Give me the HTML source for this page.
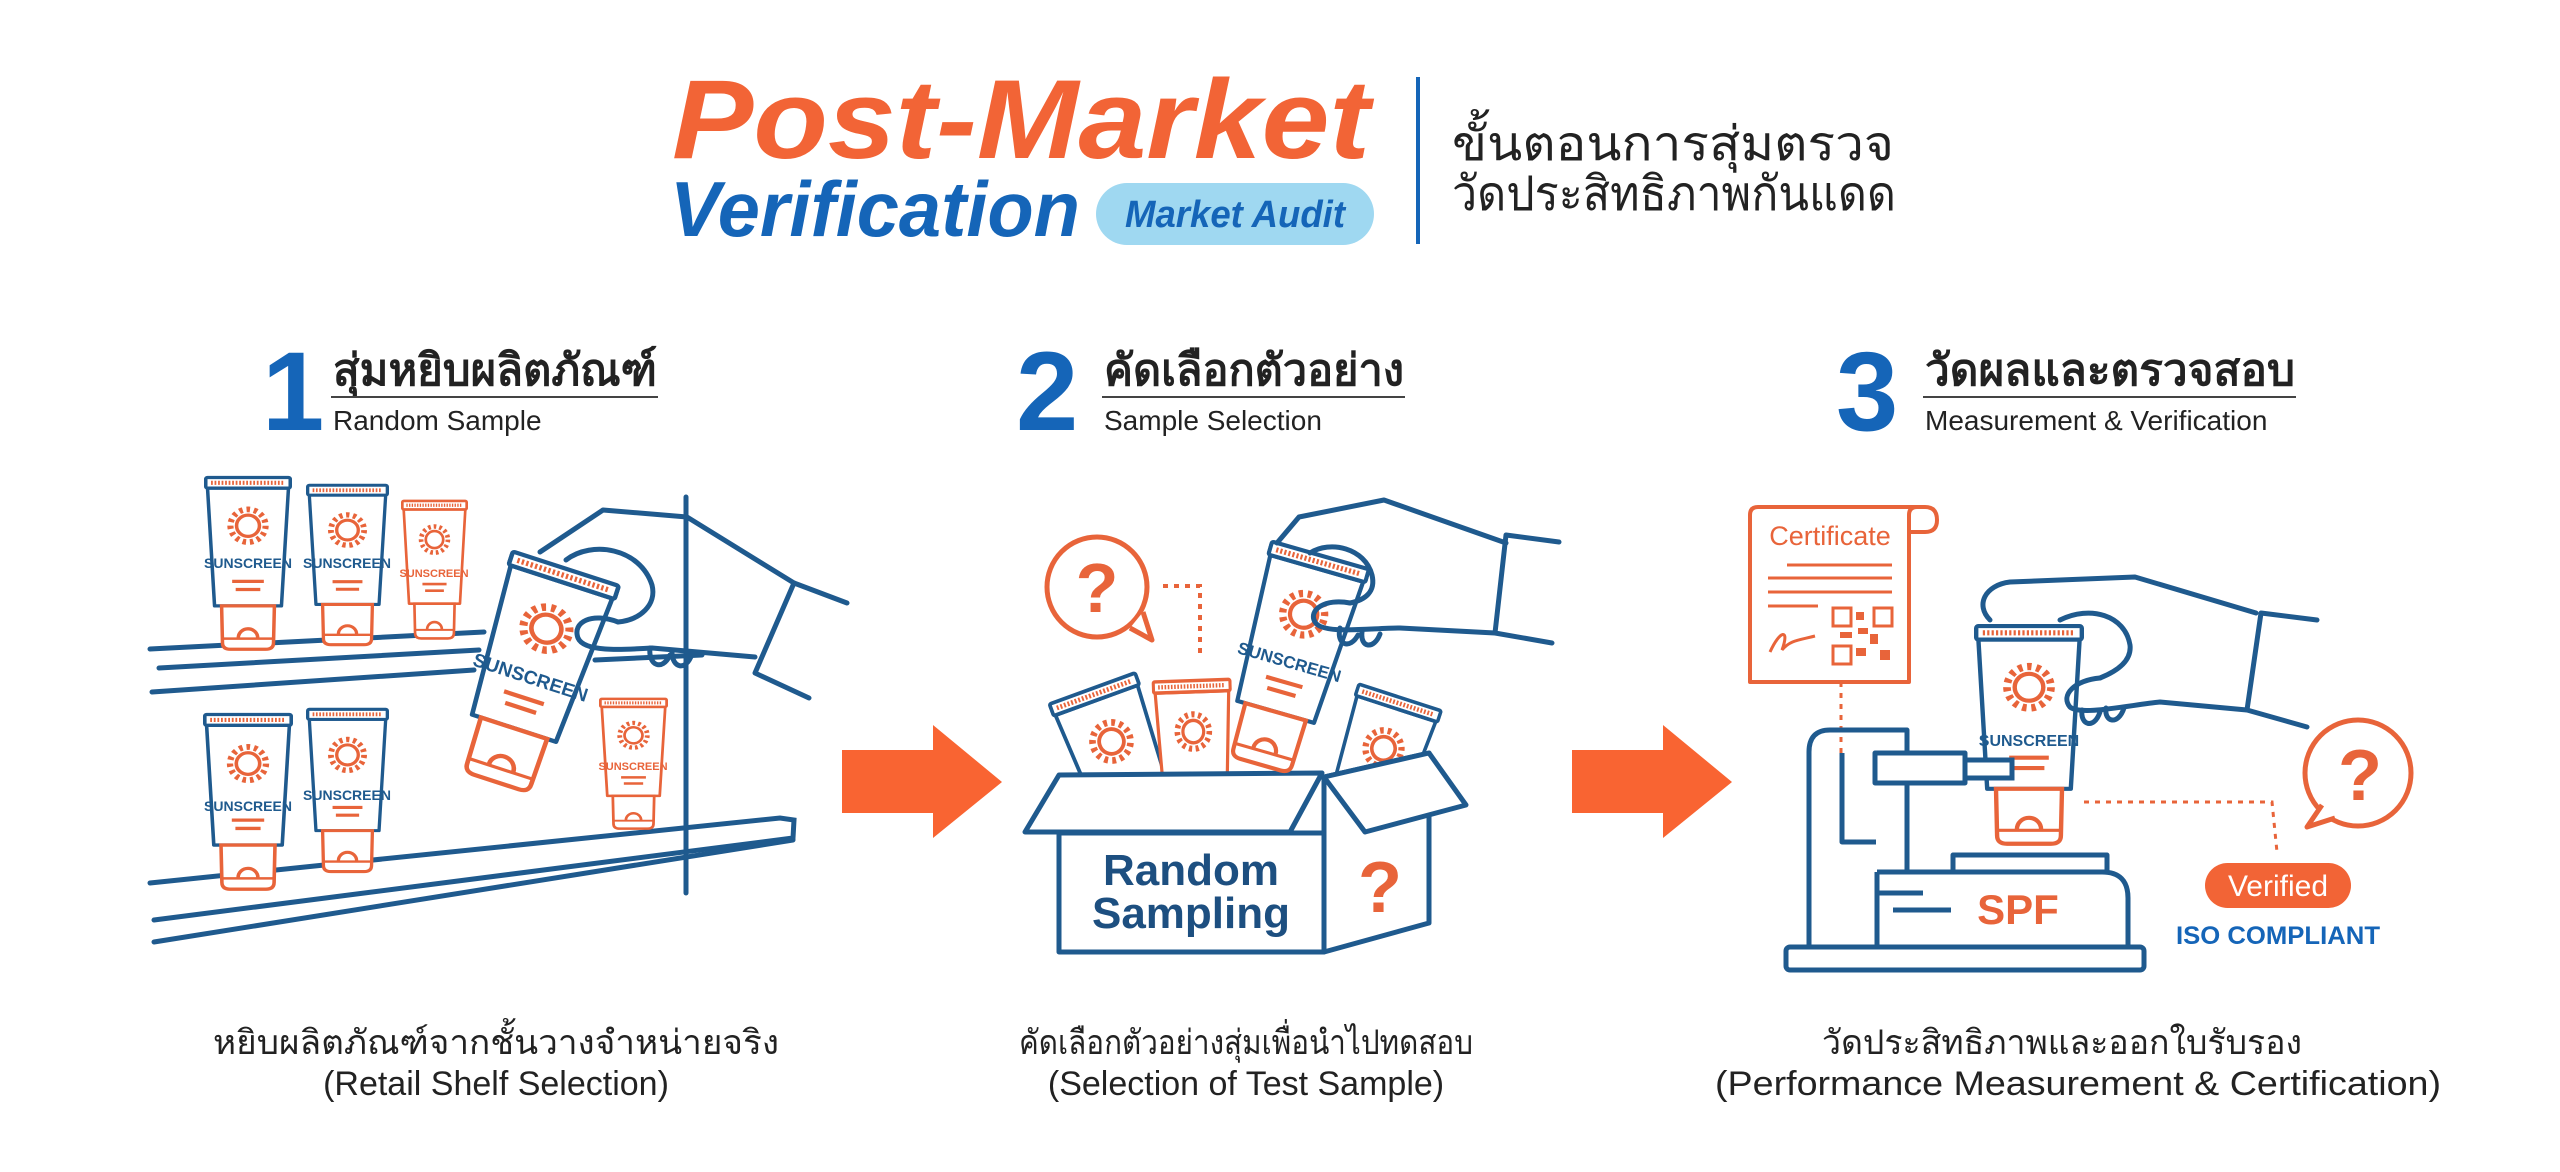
<!DOCTYPE html>
<html><head><meta charset="utf-8">
<style>
html,body{margin:0;padding:0;background:#fff;}
svg{display:block;}
text{font-family:"Liberation Sans","DejaVu Sans","Noto Sans CJK SC",sans-serif;}
</style></head>
<body>
<svg width="2560" height="1172" viewBox="0 0 2560 1172" xmlns="http://www.w3.org/2000/svg">
<defs>
<symbol id="tube" viewBox="0 0 100 220" preserveAspectRatio="none">
  <path d="M4,16 L96,16 L88,160 L12,160 Z" fill="#fff" stroke="currentColor" stroke-width="4" stroke-linejoin="round"/>
  <rect x="2" y="3" width="96" height="13" rx="2" fill="#fff" stroke="currentColor" stroke-width="4"/>
  <line x1="8" y1="9.5" x2="92" y2="9.5" stroke="#e8643a" stroke-width="5" stroke-dasharray="2 2"/>
  <circle cx="50" cy="62" r="13" fill="none" stroke="#e8643a" stroke-width="4"/>
  <circle cx="50" cy="62" r="20" fill="none" stroke="#e8643a" stroke-width="7" stroke-dasharray="4 4.4"/>
  <line x1="32" y1="130" x2="68" y2="130" stroke="#e8643a" stroke-width="4"/>
  <line x1="36" y1="140" x2="64" y2="140" stroke="#e8643a" stroke-width="4"/>
  <path d="M20,160 L80,160 L79,205 Q79,213 70,213 L30,213 Q21,213 21,205 Z" fill="#fff" stroke="#e8643a" stroke-width="4"/>
  <line x1="22" y1="200" x2="78" y2="200" stroke="#e8643a" stroke-width="3"/>
  <path d="M39,199 A11,11 0 0 1 61,199" fill="none" stroke="#e8643a" stroke-width="4"/>
</symbol>
</defs>

<!-- HEADER -->
<text x="672" y="158" font-size="112" font-weight="bold" font-style="italic" fill="#f26436" textLength="698" lengthAdjust="spacingAndGlyphs">Post-Market</text>
<text x="670" y="236" font-size="78" font-weight="bold" font-style="italic" fill="#1565b8" textLength="410" lengthAdjust="spacingAndGlyphs">Verification</text>
<rect x="1096" y="183" width="278" height="62" rx="31" fill="#9fd8f1"/>
<text x="1235" y="227" font-size="38" font-weight="bold" font-style="italic" fill="#1565b8" text-anchor="middle" textLength="220" lengthAdjust="spacingAndGlyphs">Market Audit</text>
<line x1="1418" y1="77" x2="1418" y2="244" stroke="#1565b8" stroke-width="4"/>
<text x="1452" y="160" font-size="48" fill="#222" textLength="442" lengthAdjust="spacingAndGlyphs">ขั้นตอนการสุ่มตรวจ</text>
<text x="1452" y="210" font-size="48" fill="#222" textLength="444" lengthAdjust="spacingAndGlyphs">วัดประสิทธิภาพกันแดด</text>

<!-- STEP HEADERS -->
<g fill="#1565b8" font-weight="bold">
<text x="262" y="430" font-size="112">1</text>
<text x="1016" y="430" font-size="112">2</text>
<text x="1836" y="430" font-size="112">3</text>
</g>
<g fill="#222" font-weight="bold" font-size="44">
<text x="333" y="385" textLength="324" lengthAdjust="spacingAndGlyphs">สุ่มหยิบผลิตภัณฑ์</text>
<text x="1104" y="385" textLength="300" lengthAdjust="spacingAndGlyphs">คัดเลือกตัวอย่าง</text>
<text x="1925" y="385" textLength="370" lengthAdjust="spacingAndGlyphs">วัดผลและตรวจสอบ</text>
</g>
<g stroke="#444" stroke-width="2">
<line x1="331" y1="397" x2="658" y2="397"/>
<line x1="1102" y1="397" x2="1405" y2="397"/>
<line x1="1923" y1="397" x2="2296" y2="397"/>
</g>
<g fill="#222" font-size="28">
<text x="333" y="430">Random Sample</text>
<text x="1104" y="430">Sample Selection</text>
<text x="1925" y="430">Measurement &amp; Verification</text>
</g>

<!-- ARROWS -->
<path d="M842,750 L933,750 L933,725 L1002,782 L933,838 L933,813 L842,813 Z" fill="#f96432"/>
<path d="M1572,750 L1663,750 L1663,725 L1732,782 L1663,838 L1663,813 L1572,813 Z" fill="#f96432"/>

<!-- STEP 1 ILLUSTRATION -->
<g fill="none" stroke="#1f5a8e" stroke-width="5" stroke-linecap="round">
  <line x1="150" y1="649" x2="484" y2="632"/>
  <line x1="159" y1="668" x2="479" y2="650"/>
  <line x1="595" y1="660" x2="702" y2="655"/>
  <line x1="152" y1="692" x2="474" y2="670"/>
  <line x1="686" y1="497" x2="686" y2="893"/>
  <path d="M150,883 L780,818 L794,820 L793,838 L154,920"/>
  <line x1="154" y1="942" x2="793" y2="840"/>
</g>
<g color="#1f5a8e">
<use href="#tube" x="204" y="475" width="88" height="180"/>
<use href="#tube" x="306" y="483" width="83" height="167"/>
<use href="#tube" x="203" y="712" width="90" height="183"/>
<use href="#tube" x="306" y="707" width="83" height="170"/>
</g>
<g color="#e8643a">
<use href="#tube" x="401" y="499" width="67" height="144"/>
<use href="#tube" x="599" y="697" width="69" height="136"/>
</g>
<g font-size="14" fill="#1f5a8e" text-anchor="middle" font-weight="bold">
<text x="248" y="568">SUNSCREEN</text>
<text x="347" y="568">SUNSCREEN</text>
<text x="434" y="577" font-size="11" fill="#e8643a">SUNSCREEN</text>
<text x="248" y="811">SUNSCREEN</text>
<text x="347" y="800">SUNSCREEN</text>
<text x="633" y="770" font-size="11" fill="#e8643a">SUNSCREEN</text>
</g>
<g transform="rotate(18 531 676)" color="#1f5a8e">
<use href="#tube" x="473" y="560" width="116" height="235"/>
<text x="531" y="684" font-size="19" fill="#1f5a8e" text-anchor="middle" font-weight="bold">SUNSCREEN</text>
</g>
<g fill="none" stroke="#1f5a8e" stroke-width="5" stroke-linejoin="round" stroke-linecap="round">
  <path d="M794,583 L687,517 L603,510 L540,552"/>
  <path d="M566,560 C592,540 640,548 652,585 C657,605 640,620 618,622"/>
  <path d="M618,622 C592,612 572,622 578,638 C584,652 620,650 652,648 L755,657"/>
  <path d="M794,583 L755,673 M794,583 L847,603 M755,673 L809,698"/>
  <path d="M650,648 C648,665 662,672 670,655 M672,652 C672,668 686,672 692,654"/>
</g>

<!-- STEP 2 ILLUSTRATION -->
<circle cx="1097" cy="587" r="50" fill="none" stroke="#e8643a" stroke-width="5"/>
<path d="M1130,628 L1152,640 L1143,612" fill="#fff" stroke="#e8643a" stroke-width="5" stroke-linejoin="round"/>
<text x="1097" y="612" font-size="70" font-weight="bold" fill="#e8643a" text-anchor="middle">?</text>
<path d="M1163,586 L1200,586 L1200,657" fill="none" stroke="#e8643a" stroke-width="4" stroke-dasharray="5 6"/>
<g color="#1f5a8e">
<g transform="rotate(-20 1125 780)"><use href="#tube" x="1078" y="680" width="95" height="210"/></g>
<g transform="rotate(-2 1195 780)" color="#e8643a"><use href="#tube" x="1155" y="678" width="80" height="190"/></g>
<g transform="rotate(18 1370 790)"><use href="#tube" x="1325" y="690" width="90" height="200"/></g>
</g>
<g fill="#fff" stroke="#1f5a8e" stroke-width="5" stroke-linejoin="round">
  <polygon points="1324,777 1429,753 1429,923 1324,952"/>
  <rect x="1059" y="833" width="265" height="119"/>
  <polygon points="1059,775 1322,773 1290,832 1025,832"/>
  <polygon points="1324,777 1429,753 1466,805 1365,832"/>
</g>
<g fill="#1d4f80" font-weight="bold" font-size="44" text-anchor="middle">
<text x="1191" y="885">Random</text>
<text x="1191" y="928">Sampling</text>
</g>
<text x="1380" y="912" font-size="72" font-weight="bold" fill="#e8643a" text-anchor="middle">?</text>
<g transform="rotate(16 1290 660)" color="#1f5a8e">
<use href="#tube" x="1238" y="548" width="105" height="228"/>
<text x="1290" y="668" font-size="17" fill="#1f5a8e" text-anchor="middle" font-weight="bold">SUNSCREEN</text>
</g>
<g fill="none" stroke="#1f5a8e" stroke-width="5" stroke-linejoin="round" stroke-linecap="round">
  <path d="M1277,543 L1299,517 L1384,500 L1506,543"/>
  <path d="M1310,553 C1330,540 1365,548 1372,575 C1376,592 1365,600 1350,603"/>
  <path d="M1350,603 C1325,598 1308,610 1315,622 C1322,635 1370,628 1400,628 L1495,633"/>
  <path d="M1506,535 L1495,633 M1506,535 L1559,542 M1495,633 L1552,643"/>
  <path d="M1340,628 C1336,645 1350,650 1358,635 M1362,632 C1360,648 1374,650 1380,634"/>
</g>

<!-- STEP 3 ILLUSTRATION -->
<g fill="none" stroke="#e8643a" stroke-width="4" stroke-linejoin="round">
  <path d="M1750,682 L1750,515 Q1750,507 1758,507 L1925,507 Q1937,507 1937,520 Q1937,532 1925,532 L1909,532 L1909,682 Z" fill="#fff"/>
  <path d="M1909,532 L1909,515 Q1909,507 1917,507"/>
</g>
<text x="1830" y="545" font-size="27" fill="#e8643a" text-anchor="middle">Certificate</text>
<g stroke="#e8643a" stroke-width="3">
  <line x1="1787" y1="565" x2="1892" y2="565"/>
  <line x1="1768" y1="578" x2="1892" y2="578"/>
  <line x1="1768" y1="592" x2="1892" y2="592"/>
  <line x1="1768" y1="606" x2="1818" y2="606"/>
</g>
<g fill="#e8643a">
  <rect x="1833" y="608" width="18" height="18" fill="none" stroke="#e8643a" stroke-width="3"/>
  <rect x="1874" y="608" width="18" height="18" fill="none" stroke="#e8643a" stroke-width="3"/>
  <rect x="1833" y="646" width="18" height="18" fill="none" stroke="#e8643a" stroke-width="3"/>
  <rect x="1856" y="612" width="8" height="8"/><rect x="1858" y="628" width="10" height="6"/>
  <rect x="1870" y="634" width="8" height="10"/><rect x="1856" y="648" width="10" height="8"/>
  <rect x="1880" y="650" width="10" height="10"/><rect x="1840" y="632" width="12" height="6"/>
</g>
<path d="M1770,652 C1780,630 1790,628 1782,650 C1790,640 1800,640 1815,636" fill="none" stroke="#e8643a" stroke-width="3"/>
<line x1="1841" y1="682" x2="1841" y2="765" stroke="#e8643a" stroke-width="3" stroke-dasharray="5 6"/>
<g fill="none" stroke="#1f5a8e" stroke-width="5" stroke-linejoin="round">
  <rect x="1786" y="947" width="358" height="23" rx="4" fill="#fff"/>
  <path d="M1809,947 L1809,752 Q1809,730 1830,730 L1907,730 L1907,872"/>
  <path d="M1842,753 L1842,842 L1876,842"/>
  <path d="M1877,872 L2102,872 Q2128,872 2128,898 L2128,947 M1877,872 L1877,947"/>
  <rect x="1953" y="855" width="154" height="17"/>
  <rect x="1875" y="753" width="90" height="30" fill="#fff"/>
  <line x1="1893" y1="910" x2="1951" y2="910"/>
  <line x1="1879" y1="893" x2="1923" y2="893"/>
</g>
<text x="2018" y="924" font-size="42" font-weight="bold" fill="#e8643a" text-anchor="middle">SPF</text>
<g color="#1f5a8e"><use href="#tube" x="1974" y="623" width="110" height="228"/></g>
<rect x="1965" y="760" width="47" height="18" fill="#fff" stroke="#1f5a8e" stroke-width="5"/>
<text x="2029" y="746" font-size="16" font-weight="bold" fill="#1f5a8e" text-anchor="middle">SUNSCREEN</text>
<g fill="none" stroke="#1f5a8e" stroke-width="5" stroke-linejoin="round" stroke-linecap="round">
  <path d="M1990,620 C1975,605 1985,585 2010,582 L2135,577 L2256,613"/>
  <path d="M2060,620 C2090,605 2125,615 2130,645 C2132,662 2115,672 2100,678"/>
  <path d="M2100,678 C2075,680 2060,695 2070,707 C2080,716 2130,705 2160,702 L2247,710"/>
  <path d="M2261,613 L2247,710 M2261,613 L2317,620 M2247,710 L2307,727"/>
  <path d="M2082,710 C2080,725 2094,730 2100,712 M2106,708 C2104,722 2118,726 2124,708"/>
</g>
<path d="M2084,802 L2272,802 L2277,852" fill="none" stroke="#e8643a" stroke-width="3" stroke-dasharray="5 6"/>
<circle cx="2358" cy="773" r="53" fill="none" stroke="#e8643a" stroke-width="5"/>
<path d="M2322,805 L2307,827 L2335,818" fill="#fff" stroke="#e8643a" stroke-width="5" stroke-linejoin="round"/>
<text x="2360" y="800" font-size="72" font-weight="bold" fill="#e8643a" text-anchor="middle">?</text>
<rect x="2205" y="863" width="146" height="45" rx="22.5" fill="#f26436"/>
<text x="2278" y="896" font-size="30" fill="#fff" text-anchor="middle">Verified</text>
<text x="2278" y="944" font-size="25" font-weight="bold" fill="#1565b8" text-anchor="middle" textLength="204" lengthAdjust="spacingAndGlyphs">ISO COMPLIANT</text>

<!-- CAPTIONS -->
<g fill="#222" font-size="34" text-anchor="middle">
<text x="496" y="1054" textLength="566" lengthAdjust="spacingAndGlyphs">หยิบผลิตภัณฑ์จากชั้นวางจำหน่ายจริง</text>
<text x="496" y="1095">(Retail Shelf Selection)</text>
<text x="1246" y="1054" textLength="454" lengthAdjust="spacingAndGlyphs">คัดเลือกตัวอย่างสุ่มเพื่อนำไปทดสอบ</text>
<text x="1246" y="1095">(Selection of Test Sample)</text>
<text x="2062" y="1054" textLength="480" lengthAdjust="spacingAndGlyphs">วัดประสิทธิภาพและออกใบรับรอง</text>
<text x="2078" y="1095" textLength="726" lengthAdjust="spacingAndGlyphs">(Performance Measurement &amp; Certification)</text>
</g>
</svg>
</body></html>
